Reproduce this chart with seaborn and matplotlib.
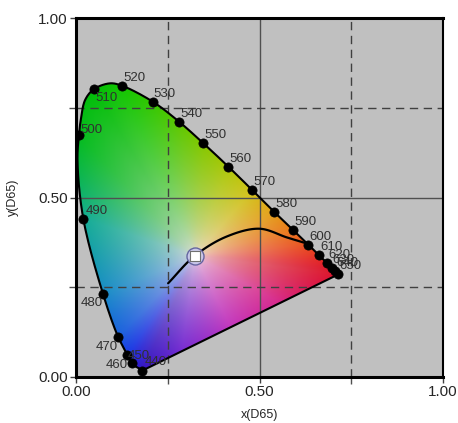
import numpy as np
import matplotlib
matplotlib.use("Agg")
import matplotlib.pyplot as plt
import seaborn as sns
import pandas as pd
from matplotlib.patches import Polygon

# ---------------- data ----------------
wavelengths = [440, 450, 460, 470, 480, 490, 500, 510, 520, 530, 540, 550,
               560, 570, 580, 590, 600, 610, 620, 630, 640, 650]
dot_x = [0.181, 0.152, 0.140, 0.115, 0.074, 0.020, 0.008, 0.049, 0.126, 0.209,
         0.281, 0.347, 0.415, 0.480, 0.540, 0.592, 0.633, 0.662, 0.684, 0.697,
         0.706, 0.715]
dot_y = [0.018, 0.038, 0.061, 0.111, 0.230, 0.440, 0.674, 0.802, 0.811, 0.767,
         0.711, 0.651, 0.586, 0.521, 0.460, 0.409, 0.369, 0.339, 0.318, 0.305,
         0.296, 0.286]

# outline of the spectral locus (violet end -> red end), incl. unlabelled points
boundary_x = [0.181, 0.152, 0.140, 0.115, 0.074, 0.020, 0.004, 0.008, 0.013,
              0.025, 0.049, 0.093, 0.126, 0.209, 0.281, 0.347, 0.415, 0.480,
              0.540, 0.592, 0.633, 0.662, 0.684, 0.697, 0.706, 0.715]
boundary_y = [0.018, 0.038, 0.061, 0.111, 0.230, 0.440, 0.604, 0.674, 0.716,
              0.772, 0.802, 0.818, 0.811, 0.767, 0.711, 0.651, 0.586, 0.521,
              0.460, 0.409, 0.369, 0.339, 0.318, 0.305, 0.296, 0.286]

# black-body (Planckian) curve
planck_x = [0.251, 0.323, 0.410, 0.500, 0.574, 0.622]
planck_y = [0.261, 0.337, 0.391, 0.413, 0.389, 0.374]

white_x = [0.323]
white_y = [0.337]

tick_values = [0.0, 0.5, 1.0]
tick_labels = ["0.00", "0.50", "1.00"]
minor_ticks = [0.25, 0.75]

# ---------------- style ----------------
# display colour of each wavelength dot (same order as wavelengths)
spectrum_rgb = [(55, 20, 195), (35, 35, 215), (25, 55, 228), (25, 95, 222),
                (25, 140, 200), (20, 172, 150), (5, 188, 30), (0, 190, 5),
                (20, 198, 0), (55, 200, 0), (95, 200, 0), (135, 200, 0),
                (175, 200, 10), (210, 195, 25), (228, 160, 25), (234, 120, 25),
                (234, 82, 30), (230, 52, 32), (226, 32, 36), (222, 24, 38),
                (220, 20, 40), (220, 18, 42)]
# colours along the purple line, from red end (t=0) to violet end (t=1)
purple_t = [0.0, 0.3, 0.55, 0.8, 1.0]
purple_rgb = [(220, 18, 42), (215, 40, 140), (195, 55, 190), (120, 45, 210),
              (55, 20, 195)]
white_rgb = (236, 222, 228)

label_style = {
    440: (2, 3, "left", "bottom"), 450: (-4, 1, "left", "bottom"),
    460: (0, -4, "right", "top"), 470: (0, -4, "right", "top"),
    480: (0, -3, "right", "top"), 490: (2, 2, "left", "bottom"),
    500: (1, -1, "left", "bottom"), 510: (1, -3, "left", "top"),
}
default_style = (1, 2, "left", "bottom")


def catmull_rom(xs, ys, n=20, alpha=0.5):
    P = np.column_stack([xs, ys]).astype(float)
    P = np.vstack([2 * P[0] - P[1], P, 2 * P[-1] - P[-2]])
    out = []
    for i in range(1, len(P) - 2):
        p0, p1, p2, p3 = P[i - 1], P[i], P[i + 1], P[i + 2]
        t0 = 0.0
        t1 = t0 + np.linalg.norm(p1 - p0) ** alpha + 1e-9
        t2 = t1 + np.linalg.norm(p2 - p1) ** alpha + 1e-9
        t3 = t2 + np.linalg.norm(p3 - p2) ** alpha + 1e-9
        t = np.linspace(t1, t2, n, endpoint=False)[:, None]
        A1 = (t1 - t) / (t1 - t0) * p0 + (t - t0) / (t1 - t0) * p1
        A2 = (t2 - t) / (t2 - t1) * p1 + (t - t1) / (t2 - t1) * p2
        A3 = (t3 - t) / (t3 - t2) * p2 + (t - t2) / (t3 - t2) * p3
        B1 = (t2 - t) / (t2 - t0) * A1 + (t - t0) / (t2 - t0) * A2
        B2 = (t3 - t) / (t3 - t1) * A2 + (t - t1) / (t3 - t1) * A3
        C = (t2 - t) / (t2 - t1) * B1 + (t - t1) / (t2 - t1) * B2
        out.append(C)
    out.append(P[-2][None, :])
    return np.vstack(out)


sns.set_theme(style="white")
plt.rcParams["font.family"] = ["Liberation Sans", "DejaVu Sans"]

fig = plt.figure(figsize=(4.58, 4.23), dpi=100)
ax = fig.add_axes([76 / 458, 1 - 377 / 423, 367 / 458, 359 / 423])
ax.set_facecolor("#c0c0c0")

# ---------------- colour field (radial blend from the white point) ----------------
outline = catmull_rom(boundary_x, boundary_y)
wx, wy = white_x[0], white_y[0]
purple = np.column_stack([np.linspace(outline[-1, 0], outline[0, 0], 200),
                          np.linspace(outline[-1, 1], outline[0, 1], 200)])
ring = np.vstack([outline, purple])
ring_ang = np.arctan2(ring[:, 1] - wy, ring[:, 0] - wx)
ring_r = np.hypot(ring[:, 0] - wx, ring[:, 1] - wy)

ref_ang = np.arctan2(dot_y[-1] - wy, dot_x[-1] - wx)


def wrap(a):
    return np.mod(a - ref_ang, 2 * np.pi)


ra = wrap(ring_ang)
order = np.argsort(ra)
ra_s, rr_s = ra[order], ring_r[order]

c_ang = list(wrap(np.arctan2(np.array(dot_y) - wy, np.array(dot_x) - wx)))
c_col = list(spectrum_rgb)
px_ = outline[-1, 0] + (outline[0, 0] - outline[-1, 0]) * np.array(purple_t)
py_ = outline[-1, 1] + (outline[0, 1] - outline[-1, 1]) * np.array(purple_t)
pa = wrap(np.arctan2(py_ - wy, px_ - wx))
pa[0] = 0.0
c_ang += list(pa)
c_col += list(purple_rgb)
c_ang = np.array(c_ang)
c_col = np.array(c_col, dtype=float)
o2 = np.argsort(c_ang)
c_ang, c_col = c_ang[o2], c_col[o2]
c_ang = np.concatenate([c_ang - 2 * np.pi, c_ang, c_ang + 2 * np.pi])
c_col = np.vstack([c_col, c_col, c_col])

n = 400
g = np.linspace(0, 1, n)
GX, GY = np.meshgrid(g, g)
ang = wrap(np.arctan2(GY - wy, GX - wx))
rad = np.hypot(GX - wx, GY - wy)
rb = np.interp(ang, np.concatenate([ra_s - 2 * np.pi, ra_s, ra_s + 2 * np.pi]),
               np.concatenate([rr_s, rr_s, rr_s]))
f = np.clip(rad / rb, 0, 1) ** 0.6
img = np.zeros((n, n, 3))
for k in range(3):
    ck = np.interp(ang, c_ang, c_col[:, k])
    img[..., k] = white_rgb[k] + (ck - white_rgb[k]) * f
img = np.clip(img / 255.0, 0, 1)

poly = Polygon(outline, closed=True, transform=ax.transData, facecolor="none")
im = ax.imshow(img, origin="lower", extent=[0, 1, 0, 1], interpolation="bilinear",
               zorder=1, aspect="auto")
im.set_clip_path(poly)

# locus outline
closed = np.vstack([outline, outline[:1]])
loc_df = pd.DataFrame({"x": closed[:, 0], "y": closed[:, 1]})
sns.lineplot(data=loc_df, x="x", y="y", sort=False, estimator=None, ax=ax,
             color="black", lw=1.5, zorder=3)

# Planckian curve
pc = catmull_rom(planck_x, planck_y)
pl_df = pd.DataFrame({"x": pc[:, 0], "y": pc[:, 1]})
sns.lineplot(data=pl_df, x="x", y="y", sort=False, estimator=None, ax=ax,
             color="black", lw=1.6, zorder=3)

# wavelength dots
dot_df = pd.DataFrame({"x": dot_x, "y": dot_y, "wl": wavelengths})
sns.scatterplot(data=dot_df, x="x", y="y", ax=ax, color="black", s=44,
                edgecolor="black", linewidth=0.5, zorder=4)
for wl, xx, yy in zip(wavelengths, dot_x, dot_y):
    dx, dy, ha, va = label_style.get(wl, default_style)
    ax.annotate(str(wl), (xx, yy), xytext=(dx * 0.72, dy * 0.72),
                textcoords="offset points", ha=ha, va=va, fontsize=9.5,
                color="#303030", zorder=5)

# white point
ax.scatter(white_x, white_y, s=150, marker="o", facecolor="#c8c8ec",
           edgecolor="#5a5a9a", linewidth=1.0, alpha=0.9, zorder=6)
ax.scatter(white_x, white_y, s=50, marker="s", facecolor="white",
           edgecolor="#707070", linewidth=0.8, zorder=7)

# axes styling
ax.set_xlim(0, 1)
ax.set_ylim(0, 1)
ax.set_xticks(tick_values)
ax.set_xticklabels(tick_labels)
ax.set_yticks(tick_values)
ax.set_yticklabels(tick_labels)
ax.set_xticks(minor_ticks, minor=True)
ax.set_yticks(minor_ticks, minor=True)
ax.tick_params(which="major", direction="out", length=4, width=1, color="#404040",
               labelsize=11, pad=2, bottom=True, left=True)
ax.tick_params(which="minor", direction="out", length=5, width=1, color="#505050",
               bottom=True, left=True)
ax.set_axisbelow(False)
ax.grid(which="major", color="#505050", lw=1.0, ls="-")
ax.grid(which="minor", color="#404040", lw=1.0, ls=(0, (6, 4)))
for side in ["left", "top", "bottom"]:
    ax.spines[side].set_linewidth(2.2)
    ax.spines[side].set_color("black")
ax.spines["right"].set_linewidth(1.5)
ax.spines["right"].set_color("black")
for s in ax.spines.values():
    s.set_zorder(8)

ax.set_xlabel("x(D65)", fontsize=9, labelpad=7)
ax.set_ylabel("y(D65)", fontsize=9, labelpad=14)

fig.savefig("out.png", dpi=100)
